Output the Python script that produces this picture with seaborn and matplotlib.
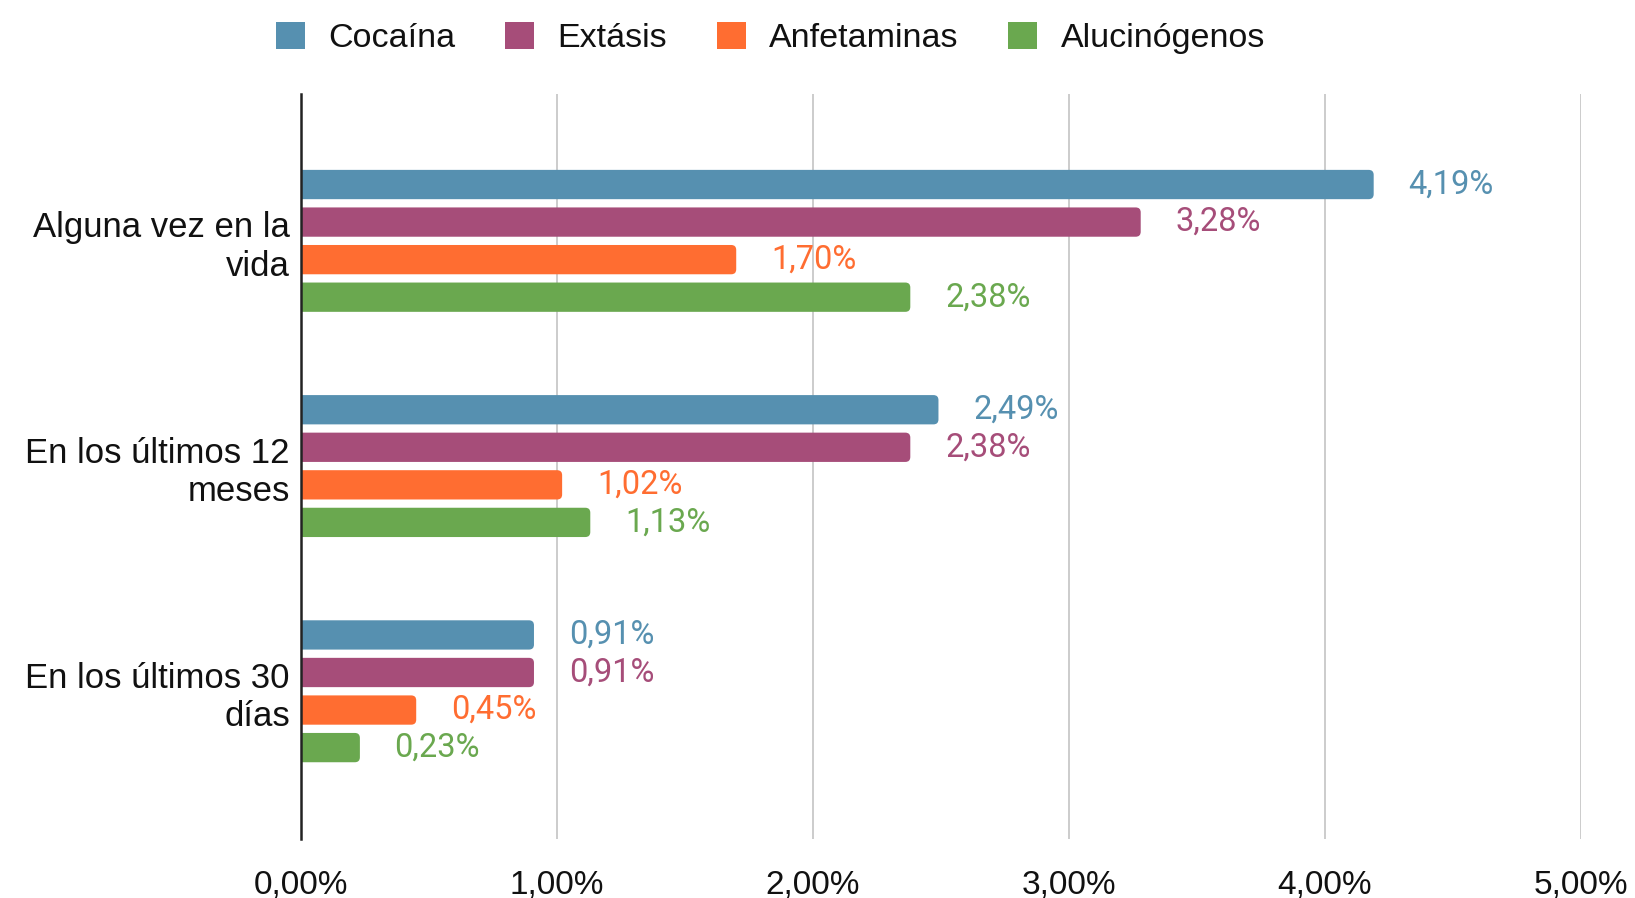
import matplotlib
matplotlib.use("Agg")
import matplotlib.pyplot as plt
from matplotlib.patches import FancyBboxPatch, Patch
import seaborn as sns
import pandas as pd

# Prevalence of drug use by time frame (percent)
periods = ["Alguna vez en la\nvida", "En los últimos 12\nmeses", "En los últimos 30\ndías"]
substances = ["Cocaína", "Extásis", "Anfetaminas", "Alucinógenos"]
cocaina = [4.19, 2.49, 0.91]
extasis = [3.28, 2.38, 0.91]
anfetaminas = [1.70, 1.02, 0.45]
alucinogenos = [2.38, 1.13, 0.23]
x_ticks = [0, 1, 2, 3, 4, 5]

colors = ["#5690b0", "#a64d79", "#ff6d31", "#6aa84f"]

series = [cocaina, extasis, anfetaminas, alucinogenos]
rows = []
for name, vals in zip(substances, series):
    for period, v in zip(periods, vals):
        rows.append({"periodo": period, "sustancia": name, "valor": v})
df = pd.DataFrame(rows)

sns.set_theme(style="white")
plt.rcParams["font.family"] = ["Liberation Sans", "DejaVu Sans"]

fig = plt.figure(figsize=(16.35, 8.98), dpi=100)
ax = fig.add_axes([0.1841, 0.0657, 0.967 - 0.1841, 0.8953 - 0.0657])

sns.barplot(data=df, x="valor", y="periodo", hue="sustancia", order=periods,
            hue_order=substances, palette=colors, orient="h", width=0.667,
            gap=0.22, legend=False, ax=ax, saturation=1)

ax.set_xlim(0, 5)
ax.set_ylim(2.656, -0.652)
ax.set_xticks(x_ticks)
ax.set_xticklabels([f"{t:.2f}%".replace(".", ",") for t in x_ticks])
ax.set_xlabel("")
ax.set_ylabel("")
ax.tick_params(axis="x", length=0, pad=22, labelsize=24, colors="#111111")
ax.tick_params(axis="y", length=0, pad=8, labelsize=25, colors="#111111")
ax.xaxis.grid(True, color="#cccccc", linewidth=1.4)
ax.yaxis.grid(False)
ax.set_axisbelow(True)
for side in ["top", "right", "bottom"]:
    ax.spines[side].set_visible(False)
ax.spines["left"].set_color("#222222")
ax.spines["left"].set_linewidth(1.8)
ax.spines["left"].set_zorder(5)

# Value labels in the colour of each series
for container, color in zip(ax.containers, colors):
    ax.bar_label(container, labels=[f"{v:.2f}%".replace(".", ",") for v in container.datavalues],
                 padding=25, color=color, fontsize=23.5, family=["Roboto", "DejaVu Sans"])

# Rounded ends on the bars
fig.canvas.draw()
p0 = ax.transData.transform((0, 0))
p1 = ax.transData.transform((1, 1))
px_x = abs(p1[0] - p0[0])
px_y = abs(p1[1] - p0[1])
rad_px = 5
r_x = rad_px / px_x
r_y = rad_px / px_y
bars = [b for c in ax.containers for b in c]
for bar in bars:
    x, y = bar.get_x(), bar.get_y()
    w, h = bar.get_width(), bar.get_height()
    color = bar.get_facecolor()
    bar.set_visible(False)
    fb = FancyBboxPatch((x - 2 * r_x, y), w + 2 * r_x, h,
                        boxstyle=f"round,pad=0,rounding_size={r_x}",
                        mutation_aspect=r_y / r_x,
                        facecolor=color, edgecolor="none", zorder=3)
    ax.add_patch(fb)

handles = [Patch(facecolor=c, edgecolor="none", label=s) for c, s in zip(colors, substances)]
fig.legend(handles=handles, loc="center", bbox_to_anchor=(0.4713, 0.958), ncol=4,
           frameon=False, fontsize=24.5, handlelength=0.85, handleheight=0.85,
           handletextpad=0.7, columnspacing=1.45, labelcolor="#111111")

fig.savefig("out.png", dpi=100)
